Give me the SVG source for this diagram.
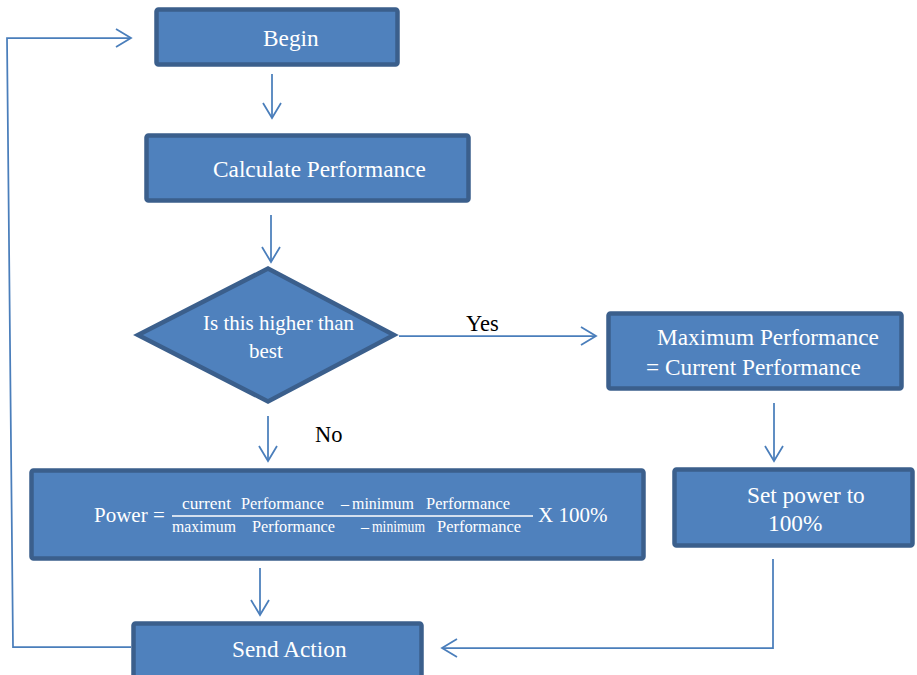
<svg xmlns="http://www.w3.org/2000/svg" width="917" height="675" viewBox="0 0 917 675">
<style>
.box{fill:#4F81BD;stroke:#3B5F8C;stroke-width:4.5;stroke-linejoin:miter}
.t{font-family:"Liberation Serif","Times New Roman",serif;fill:#FFFFFF;font-size:23.3px}
.s{font-size:21px}
.f{font-size:16px}
.c{fill:none;stroke:#4A7EBB;stroke-width:1.75}
.lbl{font-family:"Liberation Serif","Times New Roman",serif;fill:#000000;font-size:22.5px}
</style>
<defs>
<marker id="ah" markerUnits="userSpaceOnUse" markerWidth="18" markerHeight="22" viewBox="0 0 18 22" refX="16" refY="11" orient="auto">
<path d="M1,2 L16,11 L1,20" fill="none" stroke="#4A7EBB" stroke-width="1.75"/>
</marker>
</defs>
<g id="connectors">
<polyline class="c" points="131,647 13,647 7,38 131,38" marker-end="url(#ah)"/>
<line class="c" x1="272" y1="74" x2="272" y2="118" marker-end="url(#ah)"/>
<line class="c" x1="271" y1="215" x2="271" y2="262" marker-end="url(#ah)"/>
<line class="c" x1="399" y1="336" x2="596" y2="336" marker-end="url(#ah)"/>
<line class="c" x1="774" y1="403" x2="774" y2="461" marker-end="url(#ah)"/>
<line class="c" x1="268" y1="416" x2="268" y2="461" marker-end="url(#ah)"/>
<line class="c" x1="260" y1="568" x2="260" y2="615" marker-end="url(#ah)"/>
<polyline class="c" points="773,559 773,648 442,648" marker-end="url(#ah)"/>
<text class="lbl" x="466" y="331">Yes</text>
<text class="lbl" x="315" y="442">No</text>
</g>
<g id="begin">
<rect class="box" x="156.5" y="9.5" width="241" height="55" rx="2"/>
<text class="t" x="263" y="46">Begin</text>
</g>
<g id="calc">
<rect class="box" x="146.5" y="135.5" width="322" height="65" rx="2"/>
<text class="t" x="213" y="177">Calculate Performance</text>
</g>
<g id="decision">
<polygon class="box" points="138,335 268,268.5 394,335 268,401.5"/>
<text class="t s" x="203" y="330">Is this higher than</text>
<text class="t s" x="249" y="358">best</text>
</g>
<g id="maxperf">
<rect class="box" x="608.5" y="313.5" width="293" height="75" rx="2"/>
<text class="t" x="657" y="345">Maximum Performance</text>
<text class="t" x="646" y="375">= Current Performance</text>
</g>
<g id="setpower">
<rect class="box" x="674.5" y="469.5" width="238" height="76" rx="2"/>
<text class="t" x="747" y="503">Set power to</text>
<text class="t" x="768" y="531">100%</text>
</g>
<g id="power">
<rect class="box" x="31.5" y="470.5" width="612" height="88" rx="2"/>
<text class="t s" x="94" y="522">Power =</text>
<line x1="172" y1="516" x2="533" y2="516" stroke="#FFFFFF" stroke-width="1.6"/>
<text class="t f" x="182" y="509" textLength="49" lengthAdjust="spacingAndGlyphs">current</text>
<text class="t f" x="241" y="509" textLength="83" lengthAdjust="spacingAndGlyphs">Performance</text>
<text class="t f" x="341" y="509">–</text>
<text class="t f" x="352" y="509" textLength="62" lengthAdjust="spacingAndGlyphs">minimum</text>
<text class="t f" x="426" y="509" textLength="84" lengthAdjust="spacingAndGlyphs">Performance</text>
<text class="t f" x="172" y="532" textLength="64" lengthAdjust="spacingAndGlyphs">maximum</text>
<text class="t f" x="252" y="532" textLength="83" lengthAdjust="spacingAndGlyphs">Performance</text>
<text class="t f" x="361" y="532">–</text>
<text class="t f" x="372" y="532" textLength="53" lengthAdjust="spacingAndGlyphs">minimum</text>
<text class="t f" x="437" y="532" textLength="84" lengthAdjust="spacingAndGlyphs">Performance</text>
<text class="t s" x="538" y="522">X 100%</text>
</g>
<g id="send">
<rect class="box" x="133.5" y="623.5" width="288" height="70" rx="2"/>
<text class="t" x="232" y="657">Send Action</text>
</g>
</svg>
